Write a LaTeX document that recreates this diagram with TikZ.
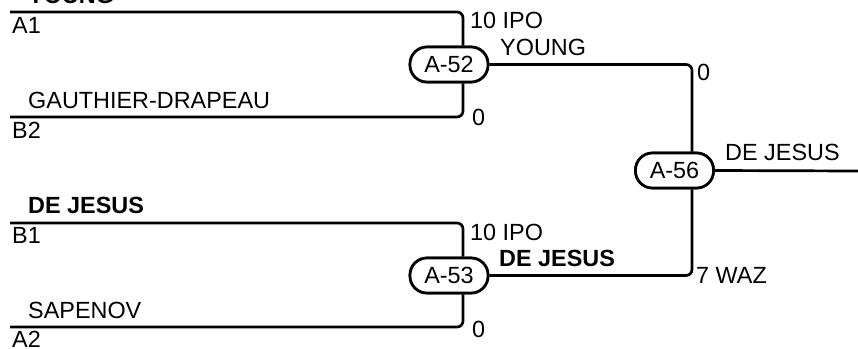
\documentclass[tikz,border=0pt]{standalone}
\usepackage{fontspec}
\setmainfont{Liberation Sans}
\begin{document}
\begin{tikzpicture}[x=1pt,y=-1pt,
  wire/.style={line width=2.7pt, rounded corners=6pt},
  game/.style={draw, line width=2.7pt, rounded corners=17pt, fill=white,
    minimum width=78pt, minimum height=35pt, inner sep=0pt,
    font=\fontsize{23.4}{27}\selectfont},
  lbl/.style={anchor=base west, inner sep=0pt, font=\fontsize{23.4}{27}\selectfont},
  blbl/.style={lbl, font=\fontsize{23.4}{27}\selectfont\bfseries}]
\useasboundingbox (0,0) rectangle (858,348);
% games
\node[game] (m52) at (449,64.5) {A-52};
\node[game] (m53) at (449,275.5) {A-53};
\node[game] (m56) at (674.5,170.5) {A-56};
% free ends
\coordinate (a1) at (10,12);
\coordinate (b2) at (10,117);
\coordinate (b1) at (10,223);
\coordinate (a2) at (10,327);
\coordinate (out) at (858,171);
% wires
\draw[wire] (a1) -| ([xshift=14pt]m52.north);
\draw[wire] (b2) -| ([xshift=14pt]m52.south);
\draw[wire] (b1) -| ([xshift=14pt]m53.north);
\draw[wire] (a2) -| ([xshift=14pt]m53.south);
\draw[wire] (m52.east) -| ([xshift=17.5pt]m56.north);
\draw[wire] (m53.east) -| ([xshift=17.5pt]m56.south);
\draw[wire] (m56.east) -- (out);
% redraw nodes on top
\node[game] at (m52) {A-52};
\node[game] at (m53) {A-53};
\node[game] at (m56) {A-56};
% labels
\node[blbl] (t1) at (28,3) {YOUNG};
\node[lbl] (t2) at (12,33) {A1};
\node[lbl] (t3) at (28,108) {GAUTHIER-DRAPEAU};
\node[lbl] (t4) at (12,138) {B2};
\node[blbl] (t5) at (28,213) {DE JESUS};
\node[lbl] (t6) at (12,243) {B1};
\node[lbl] (t7) at (28,318) {SAPENOV};
\node[lbl] (t8) at (12,347) {A2};
\node[lbl] (s1) at (470,28) {10 IPO};
\node[lbl] (s2) at (500,55) {YOUNG};
\node[lbl] (s3) at (472,125) {0};
\node[lbl] (s4) at (697,80) {0};
\node[lbl] (s5) at (725,160) {DE JESUS};
\node[lbl] (s6) at (470,240) {10 IPO};
\node[blbl] (s7) at (499,266) {DE JESUS};
\node[lbl] (s8) at (696,283) {7 WAZ};
\node[lbl] (s9) at (472,337) {0};
\end{tikzpicture}
\end{document}
